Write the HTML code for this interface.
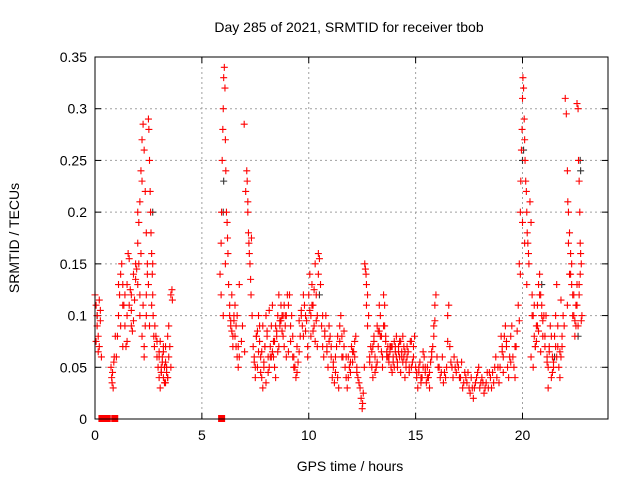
<!DOCTYPE html>
<html><head><meta charset="utf-8"><style>
body{margin:0;background:#fff}
svg{display:block;font-family:"Liberation Sans",sans-serif}
</style></head><body>
<svg id="c" width="640" height="480">
<rect width="640" height="480" fill="#fff"/>
<text x="349" y="32" font-size="14" text-anchor="middle">Day 285 of 2021, SRMTID for receiver tbob</text>
<text x="350" y="471" font-size="14" text-anchor="middle">GPS time / hours</text>
<text transform="translate(19,238) rotate(-90)" font-size="14" text-anchor="middle">SRMTID / TECUs</text>
<g id="grid"></g><g id="ticks"></g><g id="marks"></g>
<rect x="95" y="57" width="513" height="362" fill="none" stroke="#000" stroke-width="1"/>
</svg>
<script>
const xTicks=[0,5,10,15,20];
const yTicks=[0,0.05,0.1,0.15,0.2,0.25,0.3,0.35];
const yTickLabels=["0","0.05","0.1","0.15","0.2","0.25","0.3","0.35"];
const hours=[
0.0,0.05,0.1,0.1,0.15,0.15,0.2,0.2,0.25,0.25,0.3,0.05,
0.75,0.78,0.8,0.82,0.85,0.88,0.9,0.95,
1.0,1.05,1.1,1.15,1.2,1.25,1.3,1.35,1.4,1.45,1.5,1.55,1.6,1.65,1.7,1.75,1.8,1.85,1.9,1.95,1.1,1.3,1.5,1.7,
2.0,2.05,2.1,2.15,2.2,2.25,2.3,2.35,2.4,2.45,2.0,2.1,2.2,2.3,2.4,2.45,2.15,2.25,2.35,2.05,
2.5,2.52,2.55,2.58,2.6,2.62,2.65,2.68,2.7,2.72,2.75,2.78,2.55,2.65,2.5,2.7,
2.8,2.85,2.9,2.95,3.0,3.05,3.1,3.15,3.2,3.25,3.3,3.35,3.4,3.45,2.9,3.0,3.1,3.2,3.3,3.4,
3.55,3.6,3.62,3.5,3.55,3.45,
5.85,5.9,5.92,5.95,5.98,6.0,6.02,6.05,6.08,6.1,6.12,6.15,6.18,6.2,6.22,6.25,6.3,5.9,6.0,6.1,
6.3,6.35,6.4,6.45,6.5,6.55,6.6,6.65,6.7,6.75,6.4,6.5,6.6,6.7,
7.1,7.12,7.15,7.18,7.2,7.22,7.25,7.28,7.3,7.32,6.98,7.35,
7.4,7.45,7.5,7.55,7.6,7.65,7.7,7.75,7.8,7.85,7.9,7.95,8.0,8.05,8.1,8.15,8.2,8.25,8.3,8.35,8.4,8.45,8.5,8.55,8.6,8.65,8.7,8.75,8.8,8.85,8.9,8.95,
7.5,7.7,7.9,8.1,8.3,8.5,8.7,8.9,7.6,7.8,8.0,8.2,8.4,8.6,8.8,9.0,
9.05,9.1,9.15,9.2,9.25,9.3,9.35,9.4,9.45,9.5,9.55,9.6,9.65,9.7,9.75,9.8,9.85,9.9,9.95,9.3,
10.0,10.05,10.1,10.15,10.2,10.25,10.3,10.35,10.4,10.45,10.5,10.55,10.1,10.2,10.3,10.4,
10.6,10.65,10.7,10.75,10.8,10.85,10.9,10.95,11.0,11.05,11.1,11.15,11.2,11.25,11.3,11.35,11.4,11.45,11.5,11.55,11.6,11.65,11.7,11.75,11.8,11.85,11.9,11.95,12.0,12.05,12.1,12.15,12.2,12.25,12.3,12.35,
12.4,12.45,12.5,12.52,12.55,12.6,12.62,12.65,12.68,12.7,12.75,12.8,12.7,12.75,
12.85,12.9,12.95,13.0,13.05,13.1,13.15,13.2,13.25,13.3,13.35,13.4,13.45,13.5,13.55,13.6,13.65,13.7,13.75,13.8,13.85,13.9,13.95,14.0,14.05,14.1,14.15,14.2,14.25,14.3,14.35,14.4,14.45,14.5,14.55,14.6,14.7,14.8,14.9,14.95,
13.0,13.2,13.4,13.6,13.8,14.0,14.2,14.4,14.6,14.8,13.1,13.3,13.5,13.7,13.9,14.1,14.3,14.5,14.7,14.9,
15.0,15.05,15.1,15.15,15.2,15.25,15.3,15.35,15.4,15.45,15.5,15.55,15.6,15.65,15.7,15.75,15.8,15.85,15.9,15.95,16.0,16.1,16.2,16.3,16.4,16.5,16.55,16.6,16.7,16.8,16.9,15.9,15.85,16.5,
17.0,17.1,17.2,17.3,17.4,17.5,17.6,17.7,17.8,17.9,18.0,18.1,18.2,18.3,18.4,18.5,18.6,18.7,18.8,18.9,17.15,17.35,17.55,17.75,17.95,18.15,18.35,18.55,18.75,18.95,
19.0,19.05,19.1,19.15,19.2,19.25,19.3,19.35,19.4,19.45,19.5,19.55,19.6,19.65,19.7,19.75,19.8,19.1,
19.85,19.9,19.92,19.95,19.98,20.0,20.02,20.05,20.08,20.1,20.12,20.15,20.18,20.2,20.22,20.25,20.28,20.3,19.9,20.0,20.1,20.2,
20.35,20.4,20.45,20.5,20.55,20.6,20.65,20.7,20.75,20.8,20.85,20.9,20.95,20.4,20.5,20.6,20.7,20.8,20.9,21.0,
21.05,21.1,21.15,21.2,21.25,21.3,21.35,21.4,21.45,21.5,21.55,21.6,21.65,21.7,21.75,21.8,21.85,21.9,21.2,21.4,21.6,21.8,
22.0,22.05,22.1,22.12,22.15,22.2,22.25,22.3,22.35,22.4,22.45,22.5,22.1,22.2,22.3,22.4,
22.55,22.6,22.62,22.65,22.68,22.7,22.72,22.75,22.78,22.6,22.65,22.7,22.5,22.55,
1.2,1.4,1.6,1.8,2.0,2.2,2.4,1.3,1.5,1.7,1.9,2.1,2.3,
3.0,3.1,3.2,3.3,3.4,3.05,3.15,3.25,3.35,
6.35,6.45,6.55,6.65,6.75,6.85,6.9,7.0,7.05,7.15,
7.45,7.55,7.65,7.75,7.85,7.95,8.05,8.15,8.25,8.35,8.45,8.55,8.65,8.75,8.85,8.95,9.05,9.15,9.25,9.35,9.45,9.55,9.65,9.75,9.85,9.95,
10.05,10.15,10.25,10.35,10.45,10.65,10.75,10.85,10.95,11.05,11.15,11.25,11.35,11.45,11.55,11.65,11.75,11.85,11.95,12.05,12.15,12.25,
12.85,12.95,13.05,13.15,13.25,13.35,13.45,13.55,13.65,13.75,13.85,13.95,14.05,14.15,14.25,14.35,14.45,14.55,14.65,14.75,14.85,
15.05,15.15,15.25,15.35,15.45,15.55,15.65,15.75,16.05,16.15,16.25,16.35,16.45,16.65,16.75,16.85,16.95,
17.05,17.25,17.45,17.65,17.85,18.05,18.25,18.45,18.65,18.85,19.05,19.25,19.45,19.65,19.85,
20.45,20.55,20.65,20.75,20.85,20.95,21.05,21.15,21.25,21.35,21.45,21.55,21.65,21.75,21.85,21.95,
22.15,22.25,22.35,22.45,22.55,22.65,22.75,
0.3,0.35,0.4,0.45,0.5,0.55,0.9,5.9
];
const srmtid=[
0.12,0.11,0.10,0.09,0.08,0.065,0.07,0.115,0.105,0.095,0.06,0.075,
0.05,0.04,0.035,0.045,0.03,0.055,0.06,0.08,
0.06,0.08,0.1,0.12,0.14,0.15,0.13,0.11,0.09,0.07,0.075,0.16,0.155,0.125,0.105,0.085,0.095,0.115,0.135,0.145,0.13,0.07,0.1,0.12,
0.17,0.19,0.21,0.24,0.27,0.285,0.26,0.22,0.18,0.15,0.13,0.1,0.08,0.06,0.12,0.14,0.16,0.11,0.09,0.15,
0.29,0.28,0.25,0.22,0.2,0.18,0.16,0.14,0.12,0.1,0.08,0.07,0.09,0.11,0.13,0.15,
0.09,0.08,0.06,0.05,0.04,0.03,0.045,0.055,0.065,0.035,0.07,0.05,0.04,0.06,0.075,0.065,0.05,0.04,0.035,0.08,
0.12,0.125,0.115,0.07,0.05,0.09,
0.14,0.17,0.2,0.25,0.28,0.3,0.33,0.34,0.32,0.27,0.24,0.2,0.19,0.175,0.16,0.13,0.11,0.12,0.1,0.15,
0.1,0.09,0.085,0.08,0.095,0.11,0.07,0.06,0.05,0.13,0.12,0.1,0.09,0.07,
0.24,0.23,0.2,0.18,0.17,0.16,0.15,0.135,0.12,0.175,0.285,0.1,
0.07,0.06,0.04,0.08,0.05,0.1,0.09,0.06,0.04,0.03,0.05,0.07,0.1,0.08,0.06,0.05,0.07,0.09,0.11,0.06,0.05,0.04,0.08,0.1,0.12,0.09,0.11,0.1,0.08,0.07,0.09,0.06,
0.05,0.075,0.055,0.045,0.065,0.085,0.095,0.1,0.085,0.065,0.035,0.06,0.075,0.07,0.1,0.12,
0.11,0.12,0.09,0.1,0.08,0.06,0.05,0.04,0.045,0.055,0.065,0.08,0.1,0.09,0.12,0.11,0.085,0.095,0.07,0.05,
0.12,0.14,0.1,0.13,0.11,0.09,0.15,0.12,0.1,0.16,0.155,0.13,0.08,0.085,0.075,0.07,
0.09,0.07,0.06,0.08,0.1,0.07,0.05,0.09,0.08,0.06,0.04,0.05,0.035,0.06,0.07,0.04,0.03,0.09,0.1,0.08,0.06,0.07,0.05,0.04,0.03,0.06,0.05,0.045,0.07,0.055,0.065,0.06,0.08,0.05,0.04,0.035,
0.03,0.02,0.01,0.015,0.025,0.05,0.15,0.145,0.14,0.13,0.12,0.1,0.11,0.09,
0.06,0.07,0.05,0.04,0.08,0.06,0.05,0.09,0.07,0.11,0.1,0.065,0.05,0.12,0.11,0.08,0.06,0.07,0.055,0.065,0.05,0.045,0.06,0.075,0.07,0.06,0.05,0.07,0.06,0.045,0.065,0.08,0.06,0.04,0.055,0.07,0.05,0.075,0.06,0.08,
0.07,0.055,0.08,0.075,0.07,0.05,0.065,0.055,0.06,0.05,0.045,0.085,0.09,0.06,0.07,0.08,0.075,0.065,0.045,0.07,
0.05,0.04,0.03,0.045,0.055,0.035,0.04,0.05,0.06,0.045,0.035,0.05,0.04,0.03,0.055,0.06,0.07,0.08,0.11,0.12,0.06,0.05,0.045,0.035,0.04,0.1,0.11,0.07,0.05,0.06,0.045,0.095,0.09,0.075,
0.05,0.04,0.03,0.045,0.035,0.03,0.04,0.02,0.035,0.045,0.03,0.04,0.025,0.035,0.03,0.04,0.045,0.05,0.04,0.035,0.055,0.04,0.025,0.03,0.05,0.035,0.045,0.03,0.06,0.05,
0.08,0.07,0.06,0.08,0.09,0.07,0.05,0.04,0.06,0.08,0.09,0.06,0.05,0.04,0.07,0.085,0.11,0.045,
0.15,0.2,0.23,0.26,0.28,0.31,0.33,0.32,0.29,0.27,0.25,0.23,0.22,0.2,0.18,0.17,0.16,0.15,0.14,0.19,0.17,0.13,
0.21,0.19,0.12,0.1,0.08,0.07,0.09,0.11,0.13,0.14,0.12,0.1,0.08,0.06,0.05,0.07,0.09,0.12,0.11,0.1,
0.08,0.1,0.06,0.05,0.07,0.09,0.04,0.06,0.05,0.08,0.1,0.13,0.07,0.05,0.04,0.06,0.08,0.1,0.03,0.045,0.06,0.115,
0.31,0.295,0.24,0.21,0.2,0.18,0.16,0.13,0.12,0.1,0.08,0.09,0.11,0.14,0.15,0.12,
0.305,0.3,0.25,0.23,0.2,0.17,0.16,0.15,0.1,0.09,0.12,0.14,0.11,0.13,
0.09,0.12,0.11,0.14,0.2,0.23,0.1,0.11,0.13,0.09,0.15,0.12,0.07,
0.06,0.045,0.07,0.055,0.04,0.075,0.06,0.05,0.045,
0.095,0.07,0.08,0.1,0.06,0.075,0.09,0.065,0.22,0.21,
0.055,0.08,0.065,0.045,0.09,0.07,0.085,0.105,0.06,0.075,0.09,0.065,0.095,0.085,0.11,0.1,0.065,0.075,0.06,0.05,0.07,0.095,0.105,0.08,0.1,0.06,
0.105,0.11,0.125,0.095,0.14,0.1,0.085,0.065,0.075,0.07,0.055,0.045,0.08,0.075,0.06,0.085,0.06,0.04,0.055,0.065,0.075,0.045,
0.055,0.065,0.075,0.05,0.085,0.08,0.06,0.09,0.065,0.06,0.07,0.055,0.065,0.055,0.075,0.06,0.07,0.05,0.065,0.075,0.055,
0.045,0.05,0.04,0.065,0.05,0.04,0.045,0.065,0.05,0.04,0.06,0.045,0.05,0.055,0.04,0.05,0.055,
0.04,0.035,0.045,0.03,0.04,0.035,0.03,0.045,0.035,0.05,0.065,0.075,0.055,0.07,0.095,
0.1,0.11,0.075,0.085,0.065,0.095,0.07,0.055,0.065,0.08,0.055,0.07,0.09,0.065,0.07,0.09,
0.17,0.14,0.1,0.095,0.11,0.13,0.095,
0,0,0,0,0,0,0,0
];
const hours2=[6.0,6.02,20.0,20.05,22.7,22.72,2.7,20.9,22.6,0.1,10.5,21.5];
const srmtid2=[0.2,0.23,0.25,0.26,0.25,0.24,0.2,0.13,0.08,0.1,0.12,0.06];

const X0=95,X1=608,Y0=419,Y1=57;
const xs=h=>X0+(h/24)*(X1-X0);
const ys=v=>Y0-(v/0.35)*(Y0-Y1);
const NS="http://www.w3.org/2000/svg";
function mk(tag,attrs,parent){const e=document.createElementNS(NS,tag);for(const k in attrs)e.setAttribute(k,attrs[k]);parent.appendChild(e);return e;}
const grid=document.getElementById('grid'),ticks=document.getElementById('ticks'),marks=document.getElementById('marks');
xTicks.forEach(t=>{
  const x=xs(t);
  if(t>0){const g=mk('line',{x1:x,x2:x,y1:Y1,y2:Y0,stroke:'#a0a0a0','stroke-dasharray':'2,3'},grid);
  
  }
  mk('line',{x1:x,x2:x,y1:Y0,y2:Y0-6,stroke:'#000'},ticks);
  mk('line',{x1:x,x2:x,y1:Y1,y2:Y1+6,stroke:'#000'},ticks);
  const l=mk('text',{x:x,y:Y0+21,'font-size':14,'text-anchor':'middle'},ticks);
  l.textContent=String(t);
  
  
});
yTicks.forEach((t,i)=>{
  const y=ys(t);
  if(t>0&&t<0.35){const g=mk('line',{x1:X0,x2:X1,y1:y,y2:y,stroke:'#a0a0a0','stroke-dasharray':'2,3'},grid);
  
  }
  mk('line',{x1:X0,x2:X0+6,y1:y,y2:y,stroke:'#000'},ticks);
  mk('line',{x1:X1,x2:X1-6,y1:y,y2:y,stroke:'#000'},ticks);
  const l=mk('text',{x:X0-8,y:y+5,'font-size':14,'text-anchor':'end'},ticks);
  l.textContent=yTickLabels[i];
  
  
});
function plus(h,v,color,name){
  const x=xs(h),y=ys(v);
  let p;
  if(v===0){p=mk('rect',{x:x-3,y:y-4,width:7,height:7,fill:color},marks);}
  else{p=mk('path',{d:`M${x-3.5},${y}H${x+3.5}M${x},${y-3.5}V${y+3.5}`,stroke:color,'stroke-width':1.1,fill:'none'},marks);}
  
  
}
hours2.forEach((h,i)=>plus(h,srmtid2[i],'#333','srmtid-point-dark'));
hours.forEach((h,i)=>plus(h,srmtid[i],'#ff0000','srmtid-point'));
</script>
</body></html>
